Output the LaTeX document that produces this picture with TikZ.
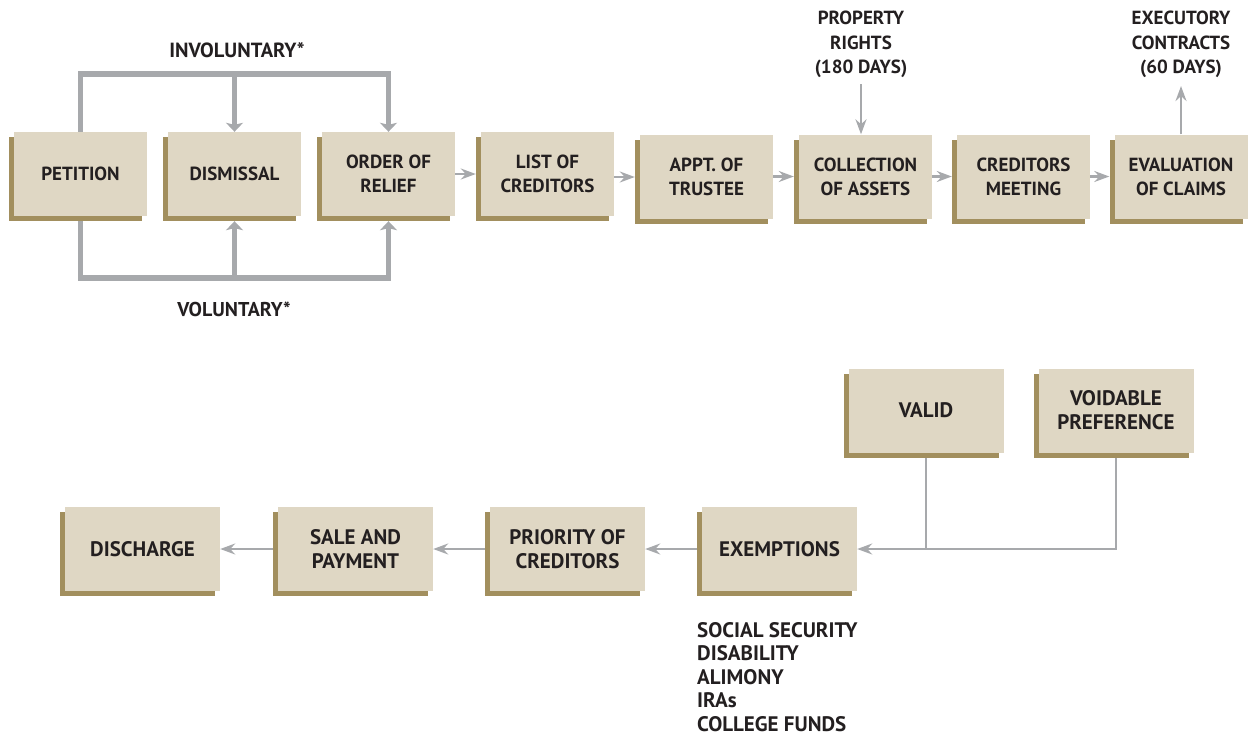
\documentclass[tikz,border=0pt]{standalone}
\usepackage{fontspec}
\setmainfont{PT Sans}
\usetikzlibrary{arrows.meta,shadows,backgrounds}
\definecolor{boxfill}{HTML}{DFD7C4}
\definecolor{boxshadow}{HTML}{A28F5E}
\definecolor{linegray}{HTML}{A7A9AC}
\definecolor{textc}{HTML}{231F20}
\begin{document}
\begin{tikzpicture}[x=1pt,y=-1pt,
  box/.style={fill=boxfill, minimum width=133pt, minimum height=84pt, inner sep=0pt,
    align=center, text=textc, font=\bfseries\fontsize{19}{24}\selectfont,
    drop shadow={shadow xshift=-5pt, shadow yshift=-5pt, fill=boxshadow, opacity=1}},
  bigbox/.style={box, minimum width=155pt, font=\bfseries\fontsize{21}{24}\selectfont},
  lbl/.style={align=center, text=textc, inner sep=0pt, font=\bfseries\fontsize{19}{24.5}\selectfont},
  heavyarrow/.style={draw=linegray, line width=5.5pt, -{Stealth[length=9pt,width=17pt,inset=2pt]}},
  thinline/.style={draw=linegray, line width=2.2pt},
  thinarrow/.style={thinline, -{Stealth[length=15pt,width=11pt,inset=5pt]}}
]
\useasboundingbox (0,0) rectangle (1253,737);

% top row
\node[box] (pet) at (80.5,174) {PETITION};
\node[box] (dis) at (234.5,174) {DISMISSAL};
\node[box] (ord) at (388.5,174) {ORDER OF\\RELIEF};
\node[box] (lst) at (547.5,174) {LIST OF\\CREDITORS};
\node[box] (apt) at (706.5,177) {APPT. OF\\TRUSTEE};
\node[box] (col) at (865.5,176.5) {COLLECTION\\OF ASSETS};
\node[box] (cre) at (1023.5,176.5) {CREDITORS\\MEETING};
\node[box] (eva) at (1181,176.5) {EVALUATION\\OF CLAIMS};

% labels
\node[lbl, font=\bfseries\fontsize{20.5}{24.5}\selectfont] (inv) at (237,50) {INVOLUNTARY*};
\node[lbl, font=\bfseries\fontsize{20}{24.5}\selectfont] (vol) at (234,309) {VOLUNTARY*};
\node[lbl] (prop) at (861,44.5) {PROPERTY\\RIGHTS\\(180 DAYS)};
\node[lbl] (exe) at (1181,44.5) {EXECUTORY\\CONTRACTS\\(60 DAYS)};

% bottom
\node[bigbox] (val) at (926,410.5) {VALID};
\node[bigbox] (voi) at (1116,410.5) {VOIDABLE\\PREFERENCE};
\node[bigbox] (exm) at (779.5,549) {EXEMPTIONS};
\node[bigbox] (pri) at (567.5,549) {PRIORITY OF\\CREDITORS};
\node[bigbox] (sal) at (355.5,549) {SALE AND\\PAYMENT};
\node[bigbox] (dsc) at (142.5,549) {DISCHARGE};

\node[lbl, anchor=west, align=left, font=\bfseries\fontsize{21}{23.5}\selectfont] (lst2) at (697,677)
  {SOCIAL SECURITY\\DISABILITY\\ALIMONY\\IRAs\\COLLEGE FUNDS};

\coordinate (topbar) at (0,74);
\coordinate (botbar) at (0,278);

\begin{scope}[on background layer]
\draw[heavyarrow] (pet.north) |- (ord.north |- topbar) -- (ord.north);
\draw[heavyarrow] (dis.north |- topbar) -- (dis.north);
\draw[heavyarrow] (pet.south) |- (ord.south |- botbar) -- ([yshift=-5pt]ord.south);
\draw[heavyarrow] (dis.south |- botbar) -- ([yshift=-5pt]dis.south);

\draw[thinarrow, shorten >=5pt] (lst.west -| ord.east) -- (lst.west);
\draw[thinarrow, shorten >=5pt] (apt.west -| lst.east) -- (apt.west);
\draw[thinarrow, shorten >=5pt] (col.west -| apt.east) -- (col.west);
\draw[thinarrow, shorten >=5pt] (cre.west -| col.east) -- (cre.west);
\draw[thinarrow, shorten >=5pt] (eva.west -| cre.east) -- (eva.west);

\draw[thinarrow] (prop.south) ++(0,6) -- (prop.south |- col.north);
\draw[thinarrow] (eva.north -| exe.south) -- ([yshift=-8pt]exe.south);

\draw[thinline] (val.south) -- (val.south |- exm.east);
\draw[thinarrow] (voi.south) |- (exm.east);
\draw[thinarrow] (pri.east -| exm.west) -- (pri.east);
\draw[thinarrow] (sal.east -| pri.west) -- (sal.east);
\draw[thinarrow] (dsc.east -| sal.west) -- (dsc.east);
\end{scope}
\end{tikzpicture}
\end{document}
